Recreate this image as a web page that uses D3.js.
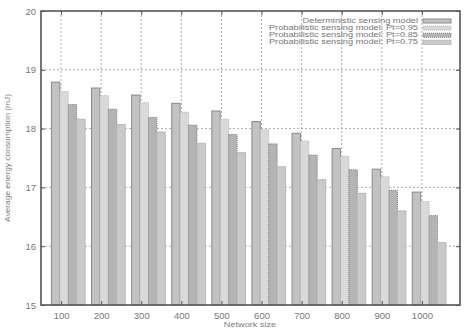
<!DOCTYPE html>
<html>
<head>
<meta charset="utf-8">
<script src="https://cdn.jsdelivr.net/npm/d3@7"></script>
<style>
  body { margin: 0; background: #fff; }
  svg { font-family: 'Liberation Sans', Arial, sans-serif; }
</style>
</head>
<body>
<div id="chart"></div>
<script>
const sizes = [100, 200, 300, 400, 500, 600, 700, 800, 900, 1000];
const seriesNames = [
  'Deterministic sensing model',
  'Probabilistic sensing model: Pt=0.95',
  'Probabilistic sensing model: Pt=0.85',
  'Probabilistic sensing model: Pt=0.75'
];
const deterministic = [18.79, 18.69, 18.57, 18.43, 18.30, 18.12, 17.92, 17.66, 17.31, 16.92];
const pt095 = [18.63, 18.56, 18.44, 18.28, 18.16, 17.98, 17.79, 17.53, 17.18, 16.76];
const pt085 = [18.41, 18.33, 18.19, 18.06, 17.90, 17.74, 17.55, 17.30, 16.95, 16.52];
const pt075 = [18.16, 18.07, 17.94, 17.75, 17.59, 17.35, 17.13, 16.90, 16.60, 16.06];
const yTicks = [15, 16, 17, 18, 19, 20];

const series = [deterministic, pt095, pt085, pt075];
const styles = [
  { fill: '#c2c2c2', stroke: '#8a8a8a', dash: null },
  { fill: '#d9d9d9', stroke: '#b5b5b5', dash: '1,1' },
  { fill: '#b4b4b4', stroke: '#7a7a7a', dash: '1,1' },
  { fill: '#cacaca', stroke: '#b8b8b8', dash: null }
];

const width = 464, height = 328;
const margin = { top: 11, right: 4, bottom: 23, left: 41 };

const svg = d3.select('#chart').append('svg')
  .attr('width', width)
  .attr('height', height);

// gnuplot-style clustered histogram: x in cluster units
const x = d3.scaleLinear()
  .domain([-0.5, 9.95])
  .range([margin.left, width - margin.right]);

const y = d3.scaleLinear()
  .domain([15, 20])
  .range([height - margin.bottom, margin.top]);

const barW = 0.21;
const barStart = -0.24;

// grid
const grid = svg.append('g').attr('class', 'grid')
  .attr('stroke', '#9a9a9a')
  .attr('stroke-width', 0.8)
  .attr('stroke-dasharray', '2,2');

grid.selectAll('line.h')
  .data(yTicks.slice(1, -1))
  .enter().append('line')
  .attr('x1', margin.left).attr('x2', width - margin.right)
  .attr('y1', d => y(d)).attr('y2', d => y(d));

grid.selectAll('line.v')
  .data(sizes)
  .enter().append('line')
  .attr('x1', (d, i) => x(i)).attr('x2', (d, i) => x(i))
  .attr('y1', margin.top).attr('y2', height - margin.bottom);

// bars
series.forEach((values, j) => {
  svg.append('g')
    .selectAll('rect')
    .data(values)
    .enter().append('rect')
    .attr('x', (d, i) => x(i + barStart + j * barW))
    .attr('width', x(barW) - x(0))
    .attr('y', d => y(d))
    .attr('height', d => y(15) - y(d))
    .attr('fill', styles[j].fill)
    .attr('stroke', styles[j].stroke)
    .attr('stroke-width', 1)
    .attr('stroke-dasharray', styles[j].dash);
});

// axes
const tickSize = 4;
const yAxisL = svg.append('g')
  .attr('transform', `translate(${margin.left},0)`)
  .call(d3.axisLeft(y).tickValues(yTicks).tickSize(-tickSize).tickPadding(5).tickFormat(d3.format('d')));
const yAxisR = svg.append('g')
  .attr('transform', `translate(${width - margin.right},0)`)
  .call(d3.axisRight(y).tickValues(yTicks).tickSize(-tickSize).tickFormat(''));
const xAxisB = svg.append('g')
  .attr('transform', `translate(0,${height - margin.bottom})`)
  .call(d3.axisBottom(x).tickValues(d3.range(sizes.length)).tickSize(-tickSize)
    .tickPadding(7).tickFormat(i => sizes[i]));
const xAxisT = svg.append('g')
  .attr('transform', `translate(0,${margin.top})`)
  .call(d3.axisTop(x).tickValues(d3.range(sizes.length)).tickSize(-tickSize).tickFormat(''));

[yAxisL, yAxisR, xAxisB, xAxisT].forEach(g => {
  g.select('.domain').remove();
  g.selectAll('.tick line').attr('stroke', '#555').attr('stroke-width', 1);
  g.selectAll('text').attr('font-size', 9.5).attr('fill', '#777')
    .attr('font-family', "'Liberation Sans', Arial, sans-serif");
});

// border
svg.append('rect')
  .attr('x', margin.left).attr('y', margin.top)
  .attr('width', width - margin.right - margin.left)
  .attr('height', height - margin.bottom - margin.top)
  .attr('fill', 'none')
  .attr('stroke', '#555')
  .attr('stroke-width', 1.6);

// axis titles (gnuplot text looks wide and short, so stretch it)
svg.append('text')
  .attr('transform', `translate(8,${(margin.top + height - margin.bottom) / 2}) rotate(-90) scale(1.2,1)`)
  .attr('text-anchor', 'middle')
  .attr('dominant-baseline', 'central')
  .attr('font-size', 7)
  .attr('fill', '#808080')
  .text('Average energy consumption (mJ)');

svg.append('text')
  .attr('transform', 'translate(250,327) scale(1.35,1)')
  .attr('text-anchor', 'middle')
  .attr('font-size', 6.8)
  .attr('fill', '#808080')
  .text('Network size');

// legend
const legend = svg.append('g').attr('class', 'legend');
const legendRows = legend.selectAll('g')
  .data(seriesNames)
  .enter().append('g')
  .attr('transform', (d, i) => `translate(0,${21 + i * 7.1})`);

legendRows.append('text')
  .attr('transform', 'translate(418,0) scale(1.32,1)')
  .attr('text-anchor', 'end')
  .attr('dominant-baseline', 'central')
  .attr('font-size', 7)
  .attr('fill', '#777')
  .text(d => d);

legendRows.append('rect')
  .attr('x', 423).attr('y', -2)
  .attr('width', 28).attr('height', 4)
  .attr('fill', (d, i) => styles[i].fill)
  .attr('stroke', (d, i) => styles[i].stroke)
  .attr('stroke-dasharray', (d, i) => styles[i].dash);
</script>
</body>
</html>
